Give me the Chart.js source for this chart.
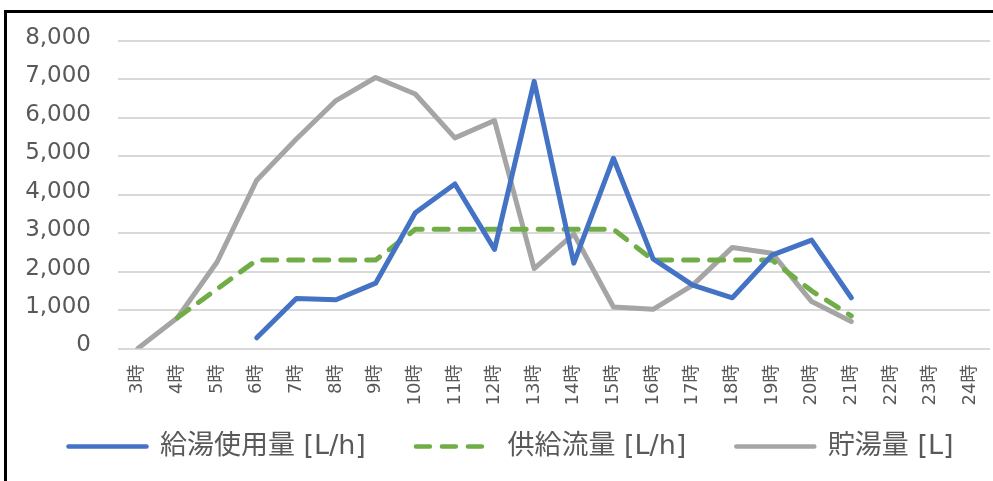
<!DOCTYPE html>
<html>
<head>
<meta charset="utf-8">
<script src="https://cdn.jsdelivr.net/npm/chart.js@4.4.0/dist/chart.umd.min.js"></script>
<style>
  html, body { margin: 0; padding: 0; background: #fff; }
  #wrap { position: relative; width: 993px; height: 481px; overflow: hidden; }
  #frame { position: absolute; left: 4px; top: 10px; right: -10px; bottom: -10px;
           border-left: 3px solid #000; border-top: 3px solid #000; pointer-events: none; }
  canvas { position: absolute; left: 0; top: 0; }
</style>
</head>
<body>
<div id="wrap">
  <canvas id="chart" width="993" height="481"></canvas>
  <div id="frame"></div>
</div>
<script>
const hours = ["3時", "4時", "5時", "6時", "7時", "8時", "9時", "10時", "11時", "12時", "13時",
  "14時", "15時", "16時", "17時", "18時", "19時", "20時", "21時", "22時", "23時", "24時"];

// 給湯使用量 [L/h]
const usage = [null, null, null, 280, 1300, 1270, 1700, 3530, 4280, 2580, 6950,
  2220, 4950, 2330, 1650, 1320, 2430, 2820, 1320, null, null, null];
// 供給流量 [L/h]
const supply = [null, 800, 1550, 2300, 2300, 2300, 2300, 3100, 3100, 3100, 3100,
  3100, 3100, 2300, 2300, 2300, 2300, 1500, 850, null, null, null];
// 貯湯量 [L]
const stored = [0, 800, 2250, 4380, 5450, 6450, 7050, 6620, 5480, 5930, 2080,
  2980, 1080, 1020, 1650, 2630, 2480, 1220, 700, null, null, null];

const seriesNames = ["給湯使用量 [L/h]", "供給流量 [L/h]", "貯湯量 [L]"];

const family = '"DejaVu Sans", "Noto Sans CJK JP", sans-serif';
const textColor = "#595959";

function lineSet(label, data, color, dash) {
  return {
    label: label,
    data: data,
    borderColor: color,
    backgroundColor: color,
    borderWidth: 5,
    borderDash: dash,
    borderCapStyle: "round",
    borderJoinStyle: "round",
    pointRadius: 0,
    tension: 0,
    spanGaps: false
  };
}

// legend padding is also the gap between items, so pull the legend box up a bit
// and nudge it right (the trailing padding pushes it off centre)
const legendShift = {
  id: "legendShift",
  afterLayout(chart) {
    const lg = chart.legend;
    lg.top -= 25.5;
    lg.height += 25.5;
    lg.left += 16;
    lg.right += 16;
  }
};

new Chart(document.getElementById("chart"), {
  type: "line",
  data: {
    labels: hours,
    datasets: [
      lineSet(seriesNames[0], usage, "#4472C4", []),
      lineSet(seriesNames[1], supply, "#70AD47", [14, 12]),
      lineSet(seriesNames[2], stored, "#A5A5A5", [])
    ]
  },
  plugins: [legendShift],
  options: {
    responsive: false,
    animation: false,
    layout: { padding: { top: 41, right: 3, bottom: 0, left: 0 } },
    plugins: {
      legend: {
        position: "bottom",
        maxHeight: 72.5,
        labels: {
          usePointStyle: true,
          pointStyle: "line",
          pointStyleWidth: 78,
          padding: 50,
          color: textColor,
          font: { family: family, size: 27 },
          generateLabels(chart) {
            const items = Chart.defaults.plugins.legend.labels.generateLabels(chart);
            items.forEach((it) => {
              const ds = chart.data.datasets[it.datasetIndex];
              it.lineDash = ds.borderDash;
              it.lineWidth = 4.5;
              it.lineCap = "round";
              it.strokeStyle = ds.borderColor;
            });
            return items;
          }
        }
      },
      tooltip: { enabled: false }
    },
    scales: {
      x: {
        offset: true,
        grid: { display: false, drawTicks: false },
        border: { display: false },
        ticks: {
          minRotation: 90,
          maxRotation: 90,
          autoSkip: false,
          padding: 16,
          color: textColor,
          font: { family: family, size: 18 }
        },
        afterFit: (s) => {
          s.height = 60;
          s.paddingLeft = 0;
          s.paddingRight = 0;
        }
      },
      y: {
        min: 0,
        max: 8000,
        ticks: {
          stepSize: 1000,
          padding: 27,
          labelOffset: -3,
          color: textColor,
          font: { family: family, size: 23 },
          callback: (v) => v.toLocaleString("en-US")
        },
        grid: { color: "#d9d9d9", lineWidth: 2, drawTicks: false },
        border: { display: false },
        afterFit: (s) => { s.width = 118; }
      }
    }
  }
});
</script>
</body>
</html>
